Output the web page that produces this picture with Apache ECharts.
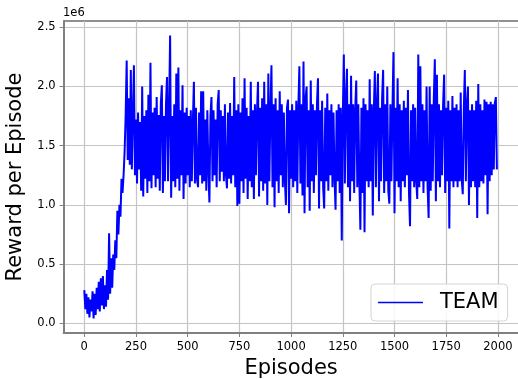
<!DOCTYPE html>
<html>
<head>
<meta charset="utf-8">
<script src="https://cdn.jsdelivr.net/npm/echarts@6/dist/echarts.min.js"></script>
<style>
  html, body { margin: 0; padding: 0; background: #fff; }
  #chart { width: 518px; height: 379px; }
</style>
</head>
<body>
<div id="chart"></div>
<script>
// reward per episode, in units of 1e6, one reading every 5 episodes
const episodeStep = 5;
const rewards = [
  // 0 - 95
  0.28, 0.12, 0.25, 0.08, 0.22, 0.05, 0.20, 0.10, 0.27, 0.04, 0.25, 0.07, 0.30, 0.12, 0.35, 0.10, 0.38, 0.15, 0.40, 0.12,
  // 100 - 195
  0.32, 0.14, 0.45, 0.20, 0.76, 0.25, 0.55, 0.30, 0.58, 0.45, 0.70, 0.55, 0.95, 0.75, 1.00, 0.90, 1.22, 1.10, 1.25, 1.45,
  // 200 - 295
  1.75, 2.22, 1.38, 1.90, 1.34, 2.14, 1.30, 1.75, 2.18, 1.25, 1.72, 1.18, 1.78, 1.30, 1.70, 1.12, 2.00, 1.07, 1.75, 1.22,
  // 300 - 395
  1.80, 1.10, 1.93, 1.20, 2.20, 1.14, 1.78, 1.25, 1.82, 1.15, 1.91, 1.22, 1.76, 1.12, 1.85, 2.01, 1.10, 1.75, 1.20, 1.85,
  // 400 - 495
  2.08, 1.20, 1.80, 2.43, 1.06, 1.75, 1.20, 1.85, 1.15, 2.11, 1.22, 2.16, 1.12, 1.80, 1.25, 2.01, 1.05, 1.78, 1.18, 1.82,
  // 500 - 595
  1.25, 1.75, 1.15, 1.80, 1.20, 1.70, 2.04, 1.18, 1.82, 1.22, 1.15, 1.78, 1.25, 1.96, 1.18, 1.96, 1.20, 1.72, 1.12, 1.80,
  // 600 - 695
  1.30, 1.02, 1.75, 1.91, 1.20, 1.80, 1.25, 1.72, 1.15, 1.85, 1.97, 1.20, 1.80, 1.28, 1.75, 1.20, 1.85, 1.25, 1.14, 1.78,
  // 700 - 795
  1.22, 1.86, 1.18, 1.75, 1.25, 2.08, 1.15, 1.80, 0.99, 1.85, 1.01, 1.78, 1.20, 1.90, 1.10, 2.07, 1.22, 1.82, 1.05, 1.75,
  // 800 - 895
  1.20, 2.04, 1.15, 1.80, 1.05, 1.85, 1.25, 1.78, 2.04, 1.07, 1.82, 1.20, 1.90, 1.12, 2.04, 1.18, 1.85, 1.00, 2.11, 1.20,
  // 900 - 995
  1.80, 2.18, 1.15, 1.85, 0.98, 1.90, 1.20, 1.80, 1.10, 1.96, 1.25, 1.85, 1.15, 1.78, 1.20, 1.00, 1.82, 1.89, 0.93, 1.80,
  // 1000 - 1095
  1.22, 1.85, 1.15, 1.80, 1.20, 1.88, 1.10, 1.82, 2.17, 1.18, 1.85, 1.08, 2.21, 0.93, 1.90, 2.00, 1.15, 1.80, 0.95, 2.05,
  // 1100 - 1195
  1.20, 1.85, 1.10, 1.80, 1.25, 1.85, 2.07, 0.97, 1.80, 1.20, 1.88, 1.15, 0.97, 1.82, 1.20, 1.94, 1.12, 1.80, 1.25, 1.85,
  // 1200 - 1295
  1.15, 1.78, 1.22, 0.96, 1.80, 1.20, 1.85, 1.10, 1.82, 0.70, 1.75, 2.27, 1.18, 1.90, 2.15, 1.15, 1.85, 1.03, 2.09, 1.20,
  // 1300 - 1395
  1.85, 1.10, 1.80, 2.05, 1.15, 1.85, 1.20, 0.79, 1.82, 1.10, 1.90, 0.77, 1.85, 1.20, 1.80, 1.15, 2.06, 1.20, 1.85, 0.91,
  // 1400 - 1495
  1.80, 2.13, 1.15, 1.85, 2.11, 1.03, 1.82, 1.20, 1.90, 2.14, 1.10, 1.85, 1.20, 2.00, 1.12, 1.01, 1.85, 1.20, 1.80, 2.29,
  // 1500 - 1595
  0.93, 1.82, 1.20, 2.07, 1.15, 1.85, 1.03, 1.80, 1.20, 1.88, 1.15, 1.82, 1.25, 1.97, 1.10, 0.82, 1.80, 1.20, 1.85, 1.15,
  // 1600 - 1695
  1.82, 1.20, 1.05, 2.27, 1.15, 2.17, 1.20, 1.85, 1.10, 1.80, 1.20, 2.00, 1.15, 0.89, 2.00, 1.12, 1.85, 1.20, 1.90, 2.23,
  // 1700 - 1795
  1.03, 2.10, 1.20, 1.85, 1.15, 1.80, 1.25, 1.85, 2.10, 1.10, 1.82, 1.20, 1.88, 0.80, 1.80, 1.20, 1.92, 1.15, 1.82, 1.20,
  // 1800 - 1895
  1.85, 1.15, 1.80, 1.20, 1.95, 1.22, 1.09, 1.80, 2.14, 1.20, 1.85, 2.00, 1.00, 1.80, 1.15, 1.85, 1.20, 1.80, 1.15, 1.88,
  // 1900 - 1995
  0.89, 2.02, 1.15, 1.85, 1.20, 1.80, 1.18, 1.89, 1.25, 1.87, 0.92, 1.85, 1.20, 1.87, 1.25, 1.85, 1.30, 1.86, 1.91, 1.30
];
const xTicks = [0, 250, 500, 750, 1000, 1250, 1500, 1750, 2000];
const yTicks = [0, 0.5, 1.0, 1.5, 2.0, 2.5];
const seriesName = 'TEAM';

const points = rewards.map((v, i) => [i * episodeStep, v]);

const chart = echarts.init(document.getElementById('chart'), null, { renderer: 'canvas' });
const font = 'DejaVu Sans';

chart.setOption({
  animation: false,
  backgroundColor: '#ffffff',
  textStyle: { fontFamily: font },
  grid: {
    left: 63.6, top: 21, right: -0.6, bottom: 46,
    containLabel: false, outerBoundsMode: 'none',
    show: true, borderColor: '#222', borderWidth: 1, backgroundColor: 'transparent'
  },
  legend: {
    left: 371, top: 284,
    padding: [8, 9, 8, 7],
    itemWidth: 45, itemHeight: 14,
    borderColor: '#d5d5d5', borderWidth: 1, borderRadius: 4,
    backgroundColor: 'rgba(255,255,255,0.85)',
    textStyle: { fontSize: 21, color: '#000', fontFamily: font, padding: [0, 0, 0, 12] },
    data: [{ name: seriesName, icon: 'path://M0,0L45,0L45,1.6L0,1.6Z', itemStyle: { color: '#0000ff' } }]
  },
  xAxis: {
    type: 'value', min: -100, max: 2100,
    name: 'Episodes', nameLocation: 'middle', nameGap: 22,
    nameTextStyle: { fontSize: 21, color: '#000', fontFamily: font },
    axisLine: { onZero: false, lineStyle: { color: '#808080', width: 2 } },
    axisTick: { show: true, customValues: xTicks, length: 4, lineStyle: { color: '#808080', width: 1 } },
    axisLabel: { customValues: xTicks, fontSize: 11.5, color: '#000', margin: 8, fontFamily: font,
      formatter: v => String(v) },
    splitLine: { show: true, lineStyle: { color: '#c4c4c4', width: 1.2 } }
  },
  yAxis: {
    type: 'value', min: -0.082, max: 2.553,
    name: 'Reward per Episode', nameLocation: 'middle', nameGap: 34, nameRotate: 90,
    nameTextStyle: { fontSize: 21, color: '#000', fontFamily: font },
    axisLine: { show: true, onZero: false, lineStyle: { color: '#808080', width: 2 } },
    axisTick: { show: true, customValues: yTicks, length: 4, lineStyle: { color: '#808080', width: 1 } },
    axisLabel: { customValues: yTicks, fontSize: 11.5, color: '#000', margin: 8, fontFamily: font,
      formatter: v => v.toFixed(1) },
    splitLine: { show: true, lineStyle: { color: '#c4c4c4', width: 1.2 } }
  },
  graphic: [{
    type: 'text', left: 63, top: 7,
    style: { text: '1e6', font: '11.5px "DejaVu Sans"', fill: '#000' }
  }],
  series: [{
    name: seriesName,
    type: 'line',
    data: points,
    showSymbol: false,
    symbol: 'none',
    sampling: null,
    lineStyle: { color: '#0000ff', width: 2 },
    itemStyle: { color: '#0000ff' }
  }]
});
</script>
</body>
</html>
